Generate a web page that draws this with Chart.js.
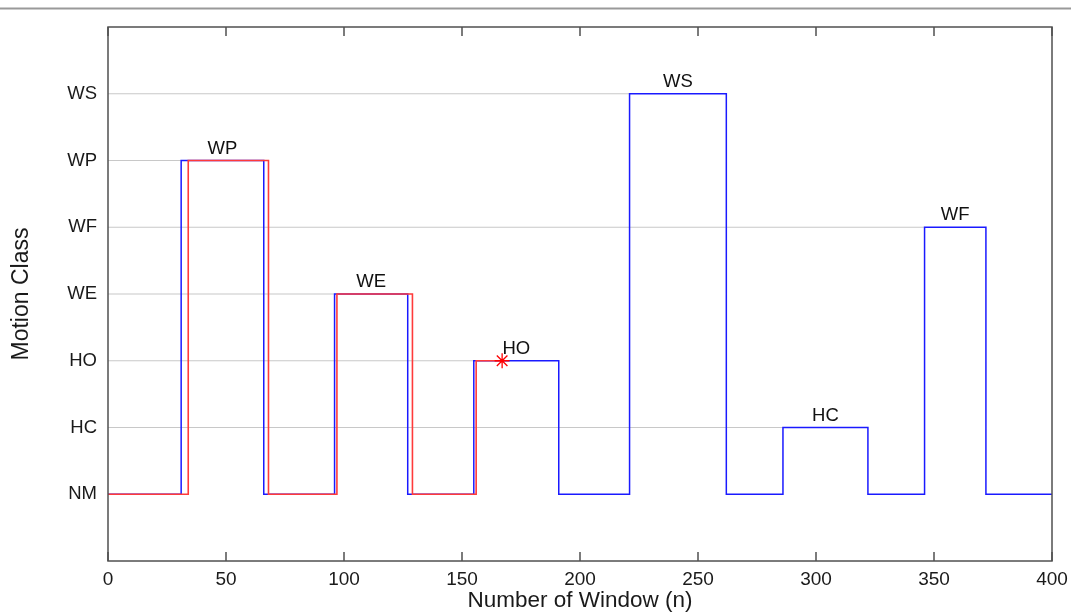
<!DOCTYPE html>
<html>
<head>
<meta charset="utf-8">
<script src="https://cdn.jsdelivr.net/npm/chart.js@4"></script>
<style>
  body { margin: 0; background: #fff; }
  canvas { display: block; }
</style>
</head>
<body>
<canvas id="myChart" width="1071" height="614"></canvas>
<script>
// motion classes, bottom to top on the y axis
const classes = ['NM', 'HC', 'HO', 'WE', 'WF', 'WP', 'WS'];

// blue step line (true class)
const blueX = [0, 31, 66, 96, 127, 155, 191, 221, 262, 286, 322, 346, 372, 400];
const blueY = ['NM', 'WP', 'NM', 'WE', 'NM', 'HO', 'NM', 'WS', 'NM', 'HC', 'NM', 'WF', 'NM', 'NM'];

// red step line (predicted class), stops at the star
const redX = [0, 34, 68, 97, 129, 156, 167];
const redY = ['NM', 'WP', 'NM', 'WE', 'NM', 'HO', 'HO'];

const starX = [167];
const starY = ['HO'];

const xTicks = [0, 50, 100, 150, 200, 250, 300, 350, 400];

const FONT = '"Liberation Sans", Arial, Helvetica, sans-serif';

function toPoints(xs, ys) {
    return xs.map((x, i) => ({ x: x, y: classes.indexOf(ys[i]) }));
}

// light guide line from the y axis to where the blue line first reaches each class
function guideLines() {
    let sets = [];
    classes.forEach((c, ci) => {
        if (c === 'NM') return;
        let i = blueY.indexOf(c);
        if (i < 0) return;
        sets.push({
            data: [{ x: 0, y: ci }, { x: blueX[i], y: ci }],
            showLine: true,
            borderColor: '#c8c8c8',
            borderWidth: 1.2,
            pointRadius: 0,
            order: 5
        });
    });
    return sets;
}

// labels sit over the middle of every raised blue step
function stepLabels() {
    let out = [];
    for (let i = 0; i < blueY.length - 1; i++) {
        if (blueY[i] !== 'NM') {
            out.push({ x: (blueX[i] + blueX[i + 1]) / 2, y: classes.indexOf(blueY[i]), text: blueY[i] });
        }
    }
    return out;
}

const framePlugin = {
    id: 'frame',
    afterDatasetsDraw(chart) {
        const { ctx, chartArea: a, scales } = chart;
        ctx.save();

        // page rule at the top
        ctx.strokeStyle = '#999';
        ctx.lineWidth = 2;
        ctx.beginPath();
        ctx.moveTo(0, 8.5);
        ctx.lineTo(chart.width, 8.5);
        ctx.stroke();

        // box round the plot
        ctx.strokeStyle = '#505050';
        ctx.lineWidth = 1.5;
        ctx.strokeRect(a.left, a.top, a.right - a.left, a.bottom - a.top);

        // inward ticks, top and bottom
        ctx.beginPath();
        xTicks.forEach(v => {
            const px = scales.x.getPixelForValue(v);
            ctx.moveTo(px, a.bottom);
            ctx.lineTo(px, a.bottom - 9);
            ctx.moveTo(px, a.top);
            ctx.lineTo(px, a.top + 9);
        });
        ctx.stroke();

        // step labels
        ctx.fillStyle = '#111';
        ctx.font = '18.5px ' + FONT;
        ctx.textAlign = 'center';
        ctx.textBaseline = 'alphabetic';
        stepLabels().forEach(l => {
            ctx.fillText(l.text, scales.x.getPixelForValue(l.x), scales.y.getPixelForValue(l.y) - 7);
        });
        ctx.restore();
    }
};

const ctx = document.getElementById('myChart').getContext('2d');

new Chart(ctx, {
    type: 'scatter',
    data: {
        datasets: [
            {
                label: 'star',
                data: toPoints(starX, starY),
                pointStyle: 'star',
                pointRadius: 7.5,
                borderColor: '#ff0000',
                backgroundColor: '#ff0000',
                borderWidth: 1.3,
                order: 0
            },
            {
                label: 'predicted',
                data: toPoints(redX, redY),
                showLine: true,
                stepped: 'before',
                borderColor: '#ff3a3a',
                borderWidth: 1.6,
                pointRadius: 0,
                order: 1
            },
            {
                label: 'actual',
                data: toPoints(blueX, blueY),
                showLine: true,
                stepped: 'before',
                borderColor: '#1a1aff',
                borderWidth: 1.5,
                pointRadius: 0,
                order: 2
            },
            ...guideLines()
        ]
    },
    options: {
        responsive: false,
        animation: false,
        layout: {
            padding: { top: 27, right: 19, left: 0, bottom: 0 }
        },
        plugins: {
            legend: { display: false },
            tooltip: { enabled: false }
        },
        scales: {
            x: {
                type: 'linear',
                min: 0,
                max: 400,
                afterBuildTicks: (scale) => { scale.ticks = xTicks.map(v => ({ value: v })); },
                afterFit: (scale) => {
                    scale.height = 53;
                    // keep the plot edges fixed, labels may hang over
                    scale.paddingLeft = 0;
                    scale.paddingRight = 0;
                },
                grid: { display: false, drawTicks: false },
                border: { display: false },
                ticks: {
                    padding: 7,
                    color: '#1a1a1a',
                    font: { family: FONT, size: 19 },
                    maxRotation: 0
                },
                title: {
                    display: true,
                    text: 'Number of Window (n)',
                    color: '#1a1a1a',
                    font: { family: FONT, size: 22.5, lineHeight: 1 },
                    padding: { top: 0, bottom: 2 }
                }
            },
            y: {
                type: 'linear',
                min: -1,
                max: 7,
                afterBuildTicks: (scale) => { scale.ticks = classes.map((c, i) => ({ value: i })); },
                afterFit: (scale) => { scale.width = 108; },
                grid: { display: false, drawTicks: false },
                border: { display: false },
                ticks: {
                    padding: 11,
                    color: '#1a1a1a',
                    font: { family: FONT, size: 18.5 },
                    callback: function (value) {
                        return classes[value] || '';
                    }
                },
                title: {
                    display: true,
                    text: 'Motion Class',
                    color: '#1a1a1a',
                    font: { family: FONT, size: 23, lineHeight: 1.2 },
                    padding: { top: 8, bottom: 0 }
                }
            }
        }
    },
    plugins: [framePlugin]
});
</script>
</body>
</html>
